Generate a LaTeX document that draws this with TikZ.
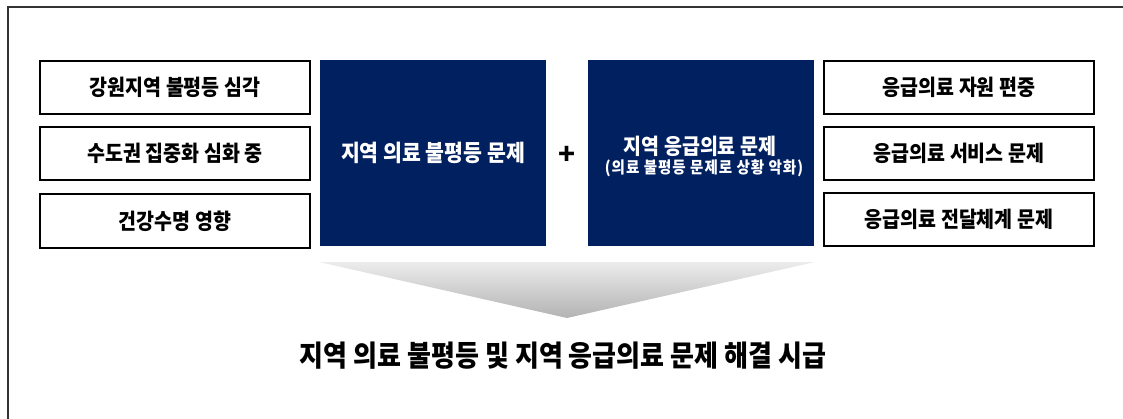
\documentclass[tikz,border=0pt]{standalone}
\usepackage{fontspec}
\usepackage{graphicx}
\newfontfamily\kr{Noto Sans CJK KR}
\definecolor{navy}{HTML}{002060}
\newcommand{\vstretch}[1]{\scalebox{1}[1.12]{#1}}
\begin{document}
\begin{tikzpicture}[x=1pt,y=-1pt,
  wbox/.style={draw=black, line width=1.2pt, fill=white, minimum width=270pt, minimum height=53pt, inner sep=0pt, font=\kr\bfseries\fontsize{19.5}{22}\selectfont},
  nbox/.style={fill=navy, minimum width=226pt, minimum height=186pt, inner sep=0pt, text=white, align=center, font=\kr\bfseries\fontsize{20.5}{24}\selectfont}]
\useasboundingbox (0,0) rectangle (1123,419);
\coordinate (fbl) at (8,419);
\coordinate (ftl) at (8,7);
\coordinate (ftr) at (1123,7);
\draw[line width=1.4pt, draw=black!80] (fbl) -- (ftl) -- (ftr);
\node[wbox] (l1) at (175,87.5) {\vstretch{강원지역 불평등 심각}};
\node[wbox] (l2) at (175,153.5) {\vstretch{수도권 집중화 심화 중}};
\node[wbox, minimum height=54pt] (l3) at (175,221) {\vstretch{건강수명 영향}};
\node[wbox] (r1) at (959,87.5) {\vstretch{응급의료 자원 편중}};
\node[wbox] (r2) at (959,153.5) {\vstretch{응급의료 서비스 문제}};
\node[wbox] (r3) at (959,219.5) {\vstretch{응급의료 전달체계 문제}};
\node[nbox] (d1) at (433,153) {\vstretch{지역 의료 불평등 문제}};
\node[nbox] (d2) at (701,153) {};
\node[text=white, font=\kr\bfseries\fontsize{19.5}{22}\selectfont, inner sep=0pt] (d2a) at (700,146) {\vstretch{지역 응급의료 문제}};
\node[text=white, font=\kr\bfseries\fontsize{14.5}{16}\selectfont\addfontfeature{LetterSpace=7}, inner sep=0pt] (d2b) at (704,168) {\vstretch{(의료 불평등 문제로 상황 악화)}};
\node[font=\kr\bfseries\fontsize{28}{28}\selectfont, inner sep=0pt] (plus) at (567,155) {+};
\coordinate (al) at ([yshift=-16pt]d1.south west);
\coordinate (ar) at ([yshift=-16pt]d2.south east);
\coordinate (at) at (567,318);
\shade[top color=gray!15, bottom color=gray!60] (al) -- (ar) -- (at) -- cycle;
\node[font=\kr\bfseries\fontsize{26}{28}\selectfont, inner sep=0pt] (res) at (563,356) {\vstretch{지역 의료 불평등 및 지역 응급의료 문제 해결 시급}};
\end{tikzpicture}
\end{document}
